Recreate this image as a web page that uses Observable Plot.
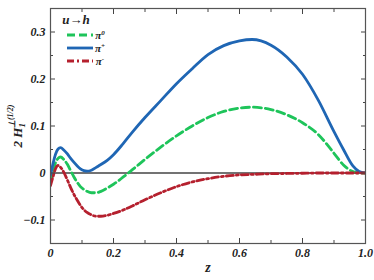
<!DOCTYPE html>
<html>
<head>
<meta charset="utf-8">
<script src="https://cdn.jsdelivr.net/npm/d3@7"></script>
<script src="https://cdn.jsdelivr.net/npm/@observablehq/plot@0.6"></script>
<style>
  html, body { margin: 0; padding: 0; background: #fff; }
  #chart { width: 374px; height: 280px; }
  #chart svg, #chart svg text { font-family: "Liberation Serif", "Times New Roman", serif !important; font-style: italic; font-weight: bold; }
</style>
</head>
<body>
<div id="chart"></div>
<script>
// ---- data ----
const zValues = [0, 0.008, 0.016, 0.024, 0.032, 0.042, 0.053, 0.064, 0.074, 0.085, 0.095, 0.106, 0.116, 0.13, 0.145, 0.16, 0.18, 0.2, 0.23, 0.26, 0.3, 0.35, 0.4, 0.45, 0.5, 0.55, 0.6, 0.64, 0.7, 0.75, 0.8, 0.85, 0.9, 0.93, 0.96, 0.98, 1.0];
const piPlus  = [-0.004, 0.02, 0.04, 0.051, 0.054, 0.049, 0.041, 0.031, 0.023, 0.015, 0.009, 0.005, 0.004, 0.006, 0.012, 0.018, 0.027, 0.039, 0.062, 0.087, 0.118, 0.154, 0.19, 0.222, 0.252, 0.271, 0.281, 0.284, 0.272, 0.247, 0.21, 0.155, 0.088, 0.05, 0.015, 0.003, 0];
const piZero  = [-0.02, 0.0, 0.022, 0.031, 0.034, 0.029, 0.019, 0.005, -0.008, -0.02, -0.029, -0.035, -0.039, -0.042, -0.042, -0.039, -0.032, -0.024, -0.009, 0.007, 0.029, 0.055, 0.079, 0.1, 0.118, 0.131, 0.138, 0.14, 0.135, 0.124, 0.107, 0.082, 0.042, 0.017, 0.003, 0.0, 0];
const piMinus = [-0.027, -0.008, 0.009, 0.016, 0.012, 0.002, -0.014, -0.031, -0.045, -0.058, -0.069, -0.078, -0.084, -0.089, -0.092, -0.092, -0.09, -0.086, -0.079, -0.07, -0.057, -0.042, -0.029, -0.019, -0.012, -0.007, -0.004, -0.003, -0.0015, -0.001, -0.0005, 0, 0, 0, 0, 0, 0];

const xTicksMajor = [0, 0.2, 0.4, 0.6, 0.8, 1.0];
const xTickLabels = ["0", "0.2", "0.4", "0.6", "0.8", "1.0"];
const xTicksMinor = [0.1, 0.3, 0.5, 0.7, 0.9];
const yTicksMajor = [-0.1, 0, 0.1, 0.2, 0.3];
const yTickLabels = ["\u22120.1", "0", "0.1", "0.2", "0.3"];
const yTicksMinor = [-0.05, 0.05, 0.15, 0.25];

const seriesNames = ["π0", "π+", "π-"];
const seriesColors = ["#1ec45a", "#1f66b4", "#b5202e"];

// ---- build table ----
const rows = [];
[piZero, piPlus, piMinus].forEach((vals, s) => {
  vals.forEach((v, i) => rows.push({series: seriesNames[s], z: zValues[i], v}));
});
const xLab = new Map(xTicksMajor.map((d, i) => [d, xTickLabels[i]]));
const yLab = new Map(yTicksMajor.map((d, i) => [d, yTickLabels[i]]));

const font = "'Liberation Serif', 'Times New Roman', serif";
const lineStyles = {
  "π0": {stroke: seriesColors[0], strokeWidth: 2.8, strokeDasharray: "8,4"},
  "π+": {stroke: seriesColors[1], strokeWidth: 2.8},
  "π-": {stroke: seriesColors[2], strokeWidth: 2.8, strokeDasharray: "7,3,2,3"}
};

const plot = Plot.plot({
  width: 374,
  height: 280,
  marginLeft: 50,
  marginRight: 9,
  marginTop: 8,
  marginBottom: 37,
  style: {fontFamily: font, fontStyle: "italic", fontWeight: "bold", fontSize: "12px", background: "#fff", color: "#222"},
  x: {domain: [0, 1]},
  y: {domain: [-0.15, 0.35]},
  marks: [
    Plot.ruleY([0], {stroke: "#444", strokeWidth: 1.3}),
    ...seriesNames.map(name => Plot.line(rows.filter(r => r.series === name), {
      x: "z", y: "v", curve: "monotone-x", clip: true, ...lineStyles[name]
    })),
    // ticks (inward) on all four sides
    Plot.axisX(xTicksMajor, {anchor: "bottom", tickSize: -5, text: null, label: null, stroke: "#444"}),
    Plot.axisX(xTicksMinor, {anchor: "bottom", tickSize: -3, text: null, label: null, stroke: "#444"}),
    Plot.axisX(xTicksMajor, {anchor: "top", tickSize: -5, text: null, label: null, stroke: "#444"}),
    Plot.axisX(xTicksMinor, {anchor: "top", tickSize: -3, text: null, label: null, stroke: "#444"}),
    Plot.axisY(yTicksMajor, {anchor: "left", tickSize: -5, text: null, label: null, stroke: "#444"}),
    Plot.axisY(yTicksMinor, {anchor: "left", tickSize: -3, text: null, label: null, stroke: "#444"}),
    Plot.axisY(yTicksMajor, {anchor: "right", tickSize: -5, text: null, label: null, stroke: "#444"}),
    Plot.axisY(yTicksMinor, {anchor: "right", tickSize: -3, text: null, label: null, stroke: "#444"}),
    // tick labels
    Plot.axisX(xTicksMajor, {anchor: "bottom", tickSize: 0, tickPadding: 5, tickFormat: d => xLab.get(d), label: null, fill: "#222", fontSize: 12}),
    Plot.axisY(yTicksMajor, {anchor: "left", tickSize: 0, tickPadding: 5, tickFormat: d => yLab.get(d), label: null, fill: "#222", fontSize: 12}),
    Plot.text(["z"], {frameAnchor: "bottom", dy: 28, fontSize: 14, fill: "#222"}),
    Plot.frame({stroke: "#555", strokeWidth: 1.2})
  ]
});
document.getElementById("chart").appendChild(plot);

// ---- y-axis label with sub/superscripts ----
const svg = d3.select(plot);
const yl = svg.append("text")
  .attr("transform", "translate(22,126) rotate(-90)")
  .attr("text-anchor", "middle")
  .attr("font-family", font).attr("font-style", "italic").attr("font-weight", "bold")
  .attr("font-size", 13).attr("fill", "#222");
yl.append("tspan").text("2 H");
yl.append("tspan").attr("font-size", 9).attr("dy", 3).text("1");
yl.append("tspan").attr("font-size", 9).attr("dx", -5).attr("dy", -10).text("\u22A5");
yl.append("tspan").attr("font-size", 8).attr("dy", -2).text("(1/2)");

// ---- legend ----
const lg = svg.append("g").attr("font-family", font).attr("font-style", "italic").attr("font-weight", "bold").attr("fill", "#222");
lg.append("text").attr("x", 76).attr("y", 24).attr("font-size", 13).text("u\u2192h");
const legendLabels = [["π", "0"], ["π", "+"], ["π", "-"]];
seriesNames.forEach((name, i) => {
  const y = 35 + i * 13;
  const st = lineStyles[name];
  lg.append("line").attr("x1", 67).attr("x2", 93).attr("y1", y).attr("y2", y)
    .attr("stroke", st.stroke).attr("stroke-width", st.strokeWidth)
    .attr("stroke-dasharray", st.strokeDasharray || null);
  const t = lg.append("text").attr("x", 100).attr("y", y + 4).attr("font-size", 11);
  t.append("tspan").text(legendLabels[i][0]);
  t.append("tspan").attr("font-size", 7).attr("dy", -4).text(legendLabels[i][1]);
});
</script>
</body>
</html>
